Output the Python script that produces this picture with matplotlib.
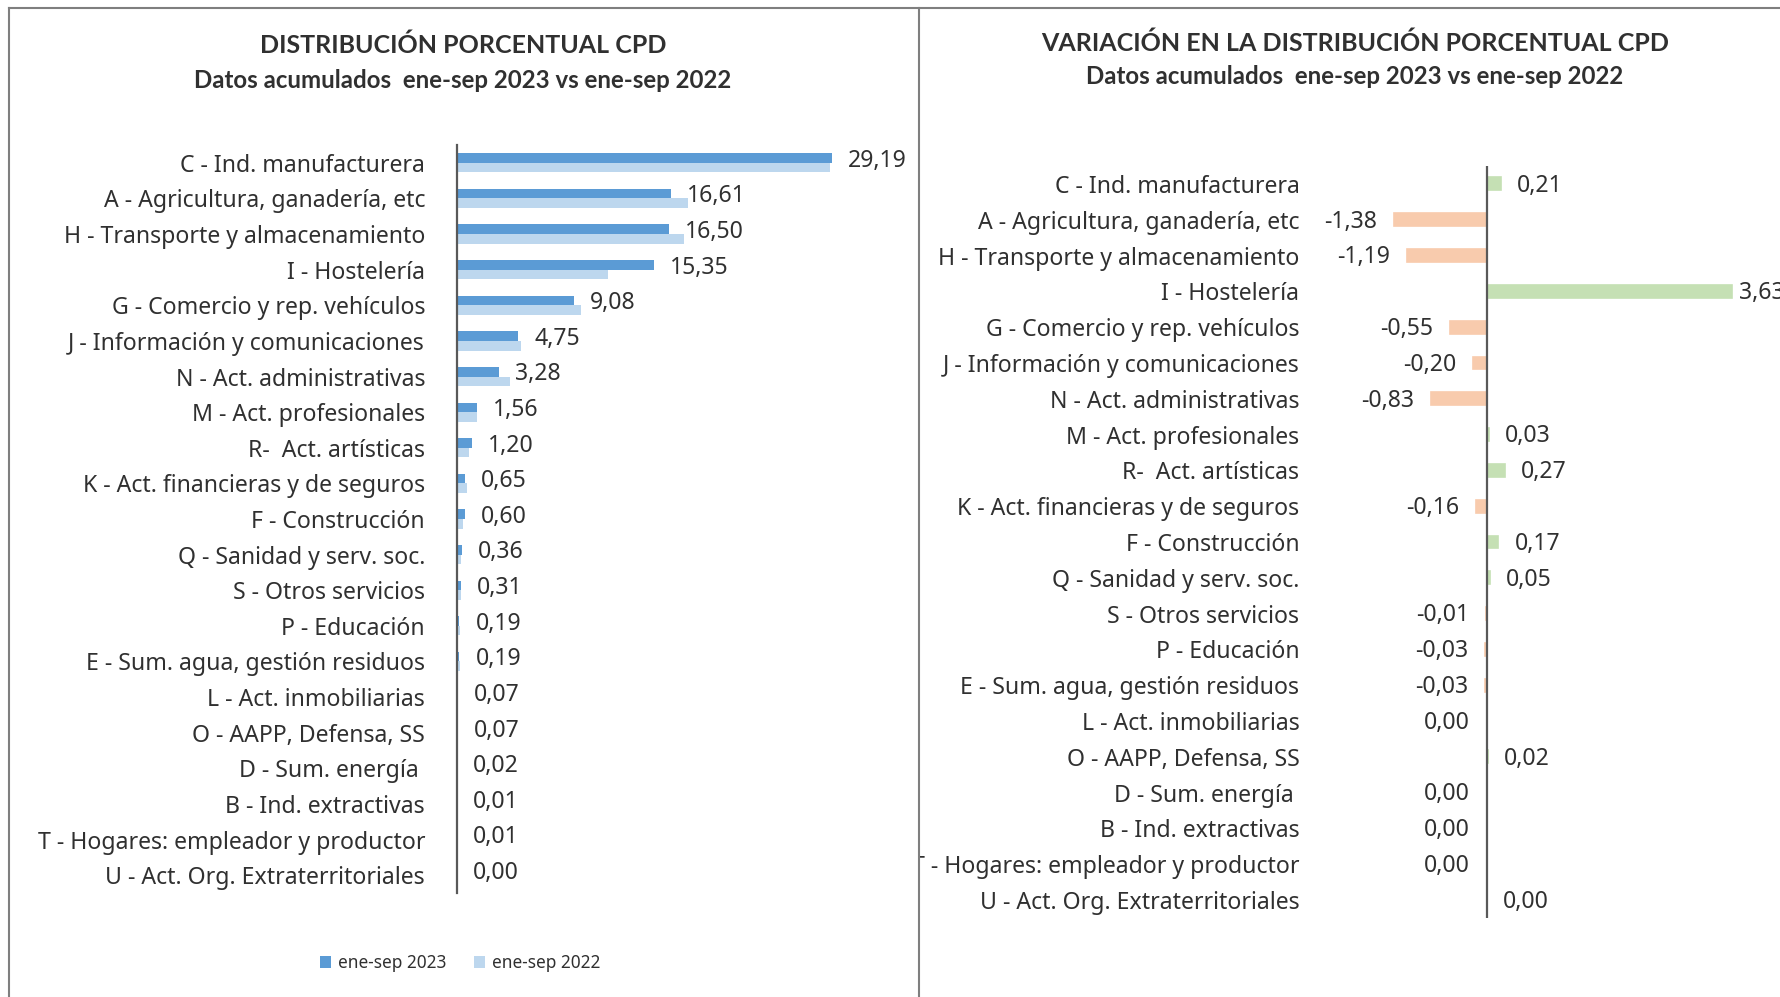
import matplotlib
matplotlib.use("Agg")
import matplotlib.pyplot as plt
from matplotlib.transforms import Bbox, TransformedBbox
import numpy as np

plt.rcParams['font.family'] = ['Noto Sans', 'DejaVu Sans']

categories = [
    "C - Ind. manufacturera",
    "A - Agricultura, ganadería, etc",
    "H - Transporte y almacenamiento",
    "I - Hostelería",
    "G - Comercio y rep. vehículos",
    "J - Información y comunicaciones",
    "N - Act. administrativas",
    "M - Act. profesionales",
    "R-  Act. artísticas",
    "K - Act. financieras y de seguros",
    "F - Construcción",
    "Q - Sanidad y serv. soc.",
    "S - Otros servicios",
    "P - Educación",
    "E - Sum. agua, gestión residuos",
    "L - Act. inmobiliarias",
    "O - AAPP, Defensa, SS",
    "D - Sum. energía ",
    "B - Ind. extractivas",
    "T - Hogares: empleador y productor",
    "U - Act. Org. Extraterritoriales",
]
pct_2023 = [29.19, 16.61, 16.50, 15.35, 9.08, 4.75, 3.28, 1.56, 1.20, 0.65, 0.60,
            0.36, 0.31, 0.19, 0.19, 0.07, 0.07, 0.02, 0.01, 0.01, 0.00]
pct_2022 = [28.98, 17.99, 17.69, 11.72, 9.63, 4.95, 4.11, 1.53, 0.93, 0.81, 0.43,
            0.31, 0.32, 0.22, 0.22, 0.07, 0.05, 0.02, 0.01, 0.01, 0.00]
variation = [0.21, -1.38, -1.19, 3.63, -0.55, -0.20, -0.83, 0.03, 0.27, -0.16, 0.17,
             0.05, -0.01, -0.03, -0.03, -0.004, 0.02, -0.002, -0.001, -0.002, 0.001]

series_labels = ["ene-sep 2023", "ene-sep 2022"]
title_left = "DISTRIBUCIÓN PORCENTUAL CPD"
title_right = "VARIACIÓN EN LA DISTRIBUCIÓN PORCENTUAL CPD"
subtitle = "Datos acumulados  ene-sep 2023 vs ene-sep 2022"

C2023 = "#5B9BD5"
C2022 = "#BDD7EE"
CPOS = "#C5E0B4"
CNEG = "#F8CBAD"
TXT = "#303030"
AXC = "#595959"
FS = 16.6

W, H = 1781, 997
fig = plt.figure(figsize=(W / 100, H / 100), dpi=100)


def fx(px):
    return px / W


def fy(py):
    return 1 - py / H


def fmt(v):
    s = f"{v:.2f}"
    if float(s) == 0:
        s = "0.00"
    return s.replace(".", ",")


n = len(categories)
y = np.arange(n)

# ---------- Left chart ----------
axL = fig.add_axes([fx(457), fy(893), fx(907 - 457), (893 - 145) / H])
bh = 0.27
axL.barh(y - bh / 2, pct_2023, height=bh, color=C2023, label=series_labels[0])
axL.barh(y + bh / 2, pct_2022, height=bh, color=C2022, label=series_labels[1])
axL.set_xlim(0, 35)
axL.set_ylim(n - 0.5, -0.5)
axL.set_yticks(y)
axL.set_yticklabels(categories, fontsize=FS, color=TXT)
axL.tick_params(axis='y', length=0, pad=23)
axL.set_xticks([])
for s in ['top', 'right', 'bottom']:
    axL.spines[s].set_visible(False)
axL.spines['left'].set_color(AXC)
axL.spines['left'].set_linewidth(1.6)
axL.patch.set_alpha(0)
for i, v in enumerate(pct_2023):
    axL.annotate(fmt(v), xy=(v, i - 0.06), xytext=(16, 0), textcoords='offset pixels',
                 ha='left', va='center', fontsize=FS, color=TXT)

leg = fig.legend(handles=axL.patches[:1] + axL.patches[n:n + 1], labels=series_labels,
                 loc='center', bbox_to_anchor=(fx(460), fy(963)), ncol=2, frameon=False,
                 fontsize=12.4, handlelength=0.65, handleheight=0.65, handletextpad=0.4,
                 columnspacing=1.6, labelcolor=TXT)

fig.text(fx(463), fy(45), title_left, ha='center', va='center', fontsize=18,
         fontweight='bold', color=TXT, family='Lato')
fig.text(fx(463), fy(81), subtitle, ha='center', va='center', fontsize=17.3,
         fontweight='bold', color=TXT, family='Lato')

# ---------- Right chart ----------
x0 = 1487
scale = 67.5
left_px = 1305
xmin = -(x0 - left_px) / scale
xmax = 5.0
right_px = x0 + xmax * scale
axR = fig.add_axes([fx(left_px), fy(918), fx(right_px - left_px), (918 - 166) / H])
colors = [CPOS if v >= 0 else CNEG for v in variation]
axR.barh(y, variation, height=0.36, color=colors, edgecolor=colors, linewidth=1.2)
axR.axvline(0, color=AXC, lw=1.6)
axR.set_xlim(xmin, xmax)
axR.set_ylim(n - 0.5, -0.5)
axR.set_yticks(y)
axR.set_yticklabels(categories, fontsize=FS, color=TXT)
axR.tick_params(axis='y', length=0, pad=4)
axR.set_xticks([])
for s in axR.spines.values():
    s.set_visible(False)
axR.patch.set_alpha(0)
for i, v in enumerate(variation):
    if v >= 0:
        end_px = x0 + v * scale
        off = 7 if end_px + 16 + 45 > W else 16
        axR.annotate(fmt(v), xy=(v, i + 0.05), xytext=(off, 0), textcoords='offset pixels',
                     ha='left', va='center', fontsize=FS, color=TXT)
    else:
        axR.annotate(fmt(v), xy=(v, i + 0.05), xytext=(-17, 0), textcoords='offset pixels',
                     ha='right', va='center', fontsize=FS, color=TXT)

clip = TransformedBbox(Bbox([[fx(920), 0], [1, 1]]), fig.transFigure)
for t in axR.get_yticklabels():
    t.set_clip_box(clip)
    t.set_clip_on(True)

fig.text(fx(1355), fy(43), title_right, ha='center', va='center', fontsize=18,
         fontweight='bold', color=TXT, family='Lato')
fig.text(fx(1355), fy(77), subtitle, ha='center', va='center', fontsize=17.3,
         fontweight='bold', color=TXT, family='Lato')

# ---------- Panel borders ----------
BC = "#7F7F7F"
fig.add_artist(plt.Line2D([fx(9), fx(9)], [fy(8), 0], color=BC, lw=1.5))
fig.add_artist(plt.Line2D([fx(918.5), fx(918.5)], [fy(8), 0], color=BC, lw=1.5))
fig.add_artist(plt.Line2D([fx(9), 1], [fy(8), fy(8)], color=BC, lw=1.5))

fig.savefig("out.png", dpi=100, facecolor="white")
